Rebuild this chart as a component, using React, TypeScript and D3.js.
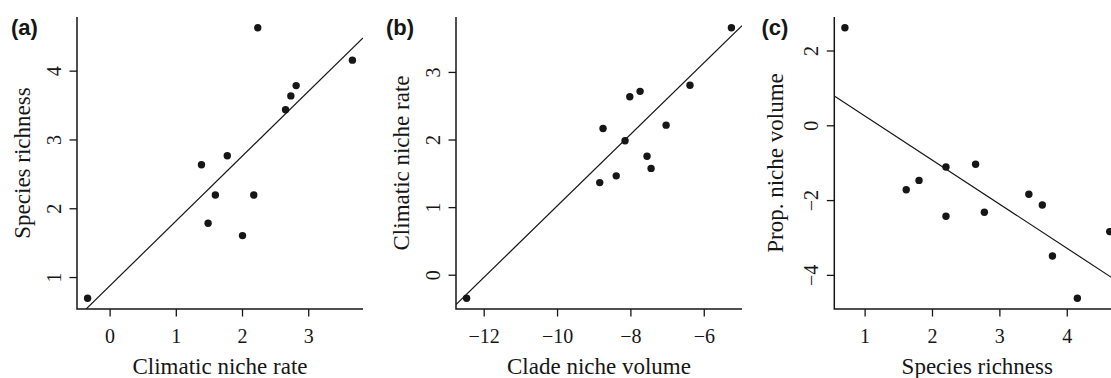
import React from "react";
import * as d3 from "d3";

// panel (a): climatic niche rate vs species richness
const rateA = [-0.34, 1.38, 1.77, 1.59, 1.48, 2.0, 2.17, 2.65, 2.73, 2.81, 2.23, 3.66];
const richA = [0.7, 2.64, 2.77, 2.2, 1.79, 1.61, 2.2, 3.44, 3.64, 3.79, 4.63, 4.16];

// panel (b): clade niche volume vs climatic niche rate
const volB = [-12.48, -8.85, -8.4, -8.76, -8.16, -8.03, -7.75, -7.56, -7.45, -7.04, -6.39, -5.26];
const rateB = [-0.34, 1.37, 1.47, 2.17, 1.99, 2.64, 2.72, 1.76, 1.58, 2.22, 2.81, 3.66];

// panel (c): species richness vs proportional niche volume
const richC = [0.7, 1.61, 1.8, 2.2, 2.2, 2.64, 2.77, 3.43, 3.63, 3.78, 4.15, 4.63];
const propC = [2.62, -1.71, -1.46, -1.1, -2.42, -1.03, -2.31, -1.83, -2.12, -3.48, -4.61, -2.83];

// fitted lines [intercept, slope]
const fitA = [0.884, 0.942];
const fitB = [6.32, 0.529];
const fitC = [1.44, -1.18];

const ticksA = { x: [0, 1, 2, 3], y: [1, 2, 3, 4] };
const ticksB = { x: [-12, -10, -8, -6], y: [0, 1, 2, 3] };
const ticksC = { x: [1, 2, 3, 4], y: [-4, -2, 0, 2] };

const serif = "'Liberation Serif', 'Times New Roman', serif";
const sans = "'Liberation Sans', Arial, sans-serif";
const ink = "#161616";

// R style axis range: data extent +/- 4%
function rRange(v: number[]): [number, number] {
  const [lo, hi] = d3.extent(v) as [number, number];
  const pad = (hi - lo) * 0.04;
  return [lo - pad, hi + pad];
}

const fmt = (v: number) => (v < 0 ? "\u2212" + Math.abs(v) : String(v));

type PanelProps = {
  id: string;
  left: number;
  labelX: number;
  yTitleX: number;
  xs: number[];
  ys: number[];
  fit: number[];
  ticks: { x: number[]; y: number[] };
  xTitle: string;
  yTitle: string;
};

const top = 17;
const bottom = 309;
const plotW = 286;

function Panel(p: PanelProps) {
  const x = d3.scaleLinear().domain(rRange(p.xs)).range([p.left, p.left + plotW]);
  const y = d3.scaleLinear().domain(rRange(p.ys)).range([bottom, top]);
  const [x0, x1] = x.domain();
  const fitLine = d3
    .line<number>()
    .x((d) => x(d))
    .y((d) => y(p.fit[0] + p.fit[1] * d));
  const clipId = "clip-" + p.id;

  return (
    <g>
      <defs>
        <clipPath id={clipId}>
          <rect x={p.left} y={top} width={plotW} height={bottom - top} />
        </clipPath>
      </defs>

      <path
        d={fitLine([x0, x1]) || ""}
        fill="none"
        stroke={ink}
        strokeWidth={1.2}
        clipPath={`url(#${clipId})`}
      />

      {p.xs.map((d, i) => (
        <circle key={i} cx={x(d)} cy={y(p.ys[i])} r={3.7} fill={ink} />
      ))}

      {/* L-shaped frame */}
      <path
        d={`M${p.left},${top}V${bottom}H${p.left + plotW}`}
        fill="none"
        stroke={ink}
        strokeWidth={1.5}
      />

      {p.ticks.x.map((t) => (
        <g key={"x" + t}>
          <line x1={x(t)} x2={x(t)} y1={bottom} y2={bottom + 7.5} stroke={ink} strokeWidth={1.3} />
          <text x={x(t)} y={342.5} textAnchor="middle" fontFamily={serif} fontSize={20} fill={ink}>
            {fmt(t)}
          </text>
        </g>
      ))}

      {p.ticks.y.map((t) => (
        <g key={"y" + t}>
          <line x1={p.left - 7.5} x2={p.left} y1={y(t)} y2={y(t)} stroke={ink} strokeWidth={1.3} />
          <text
            transform={`translate(${p.left - 16.5},${y(t)}) rotate(-90)`}
            textAnchor="middle"
            fontFamily={serif}
            fontSize={20}
            fill={ink}
          >
            {fmt(t)}
          </text>
        </g>
      ))}

      <text
        x={p.left + plotW / 2}
        y={373.5}
        textAnchor="middle"
        fontFamily={serif}
        fontSize={23}
        fill={ink}
      >
        {p.xTitle}
      </text>
      <text
        transform={`translate(${p.yTitleX},${(top + bottom) / 2}) rotate(-90)`}
        textAnchor="middle"
        fontFamily={serif}
        fontSize={23}
        fill={ink}
      >
        {p.yTitle}
      </text>

      <text x={p.labelX} y={35} fontFamily={sans} fontWeight="bold" fontSize={22} fill={ink}>
        ({p.id})
      </text>
    </g>
  );
}

export default function App() {
  return (
    <svg
      width={1111}
      height={378}
      style={{ position: "absolute", left: 0, top: 0, background: "#fff" }}
    >
      <Panel
        id="a"
        left={77}
        labelX={11}
        yTitleX={30}
        xs={rateA}
        ys={richA}
        fit={fitA}
        ticks={ticksA}
        xTitle="Climatic niche rate"
        yTitle="Species richness"
      />
      <Panel
        id="b"
        left={456}
        labelX={386}
        yTitleX={409}
        xs={volB}
        ys={rateB}
        fit={fitB}
        ticks={ticksB}
        xTitle="Clade niche volume"
        yTitle="Climatic niche rate"
      />
      <Panel
        id="c"
        left={834.3}
        labelX={761.5}
        yTitleX={783}
        xs={richC}
        ys={propC}
        fit={fitC}
        ticks={ticksC}
        xTitle="Species richness"
        yTitle="Prop. niche volume"
      />
    </svg>
  );
}
